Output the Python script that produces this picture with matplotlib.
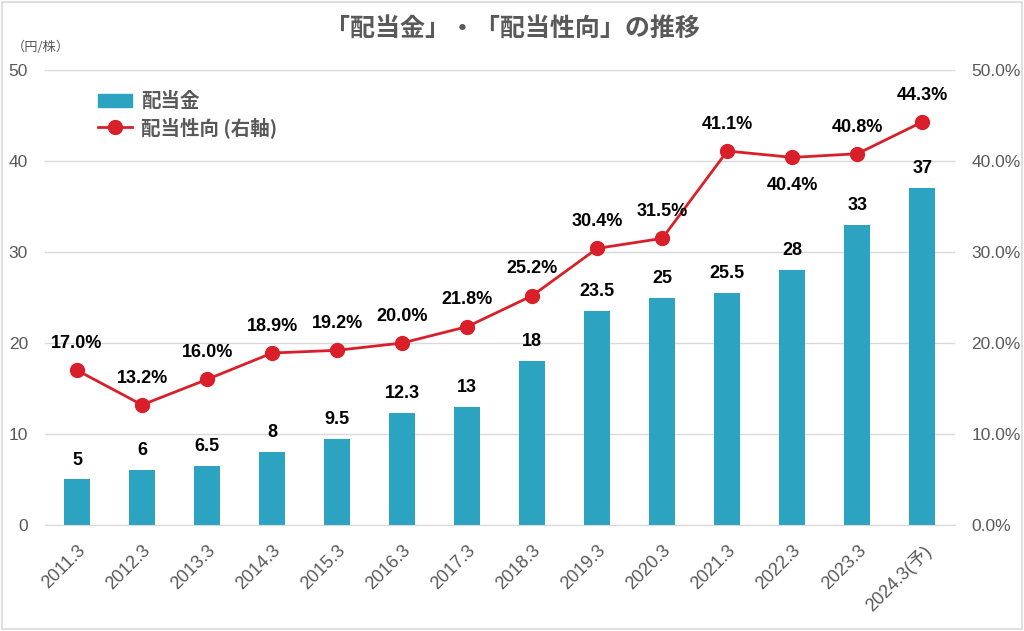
import matplotlib.pyplot as plt
from matplotlib.lines import Line2D
from matplotlib.patches import Patch, Rectangle

plt.rcParams['font.family'] = ['Liberation Sans', 'Noto Sans CJK JP', 'DejaVu Sans']

years = ['2011.3', '2012.3', '2013.3', '2014.3', '2015.3', '2016.3', '2017.3',
         '2018.3', '2019.3', '2020.3', '2021.3', '2022.3', '2023.3', '2024.3(予)']
dividend = [5, 6, 6.5, 8, 9.5, 12.3, 13, 18, 23.5, 25, 25.5, 28, 33, 37]
payout = [17.0, 13.2, 16.0, 18.9, 19.2, 20.0, 21.8, 25.2, 30.4, 31.5, 41.1, 40.4, 40.8, 44.3]
div_labels = ['5', '6', '6.5', '8', '9.5', '12.3', '13', '18', '23.5', '25', '25.5', '28', '33', '37']

bar_color = '#2CA3C0'
line_color = '#D9202A'
gray = '#595959'
cjk = ['Noto Sans CJK JP', 'DejaVu Sans']

fig = plt.figure(figsize=(10.24, 6.31), dpi=100)
fig.patches.append(Rectangle((0.002, 0.003), 0.996, 0.994, transform=fig.transFigure,
                             fill=False, edgecolor='#d9d9d9', linewidth=1.2))
ax = fig.add_axes([0.0435, 0.168, 0.889, 0.721])
ax2 = ax.twinx()

x = list(range(len(years)))
ax.bar(x, dividend, width=0.4, color=bar_color, zorder=2)
for xi, v, lab in zip(x, dividend, div_labels):
    ax.text(xi, v + 1.2, lab, ha='center', va='bottom', fontsize=13,
            fontweight='bold', color='black')

ax2.plot(x, payout, color=line_color, linewidth=2, marker='o', markersize=10, zorder=3)
for xi, v in zip(x, payout):
    if v == 40.4:
        ax2.text(xi, v - 2.2, '{:.1f}%'.format(v), ha='center', va='top', fontsize=13,
                 fontweight='bold', color='black')
    else:
        ax2.text(xi, v + 2.0, '{:.1f}%'.format(v), ha='center', va='bottom', fontsize=13,
                 fontweight='bold', color='black')

ax.set_xlim(-0.5, len(years) - 0.5)
ax.set_ylim(0, 50)
ax2.set_ylim(0, 50)
ax.set_yticks(range(0, 51, 10))
ax2.set_yticks(range(0, 51, 10))
ax2.set_yticklabels(['{:.1f}%'.format(t) for t in range(0, 51, 10)])
ax.set_xticks(x)
ax.set_xticklabels(years, rotation=45, ha='right', rotation_mode='anchor')

ax.grid(axis='y', color='#d9d9d9', linewidth=1, zorder=0)
ax.set_axisbelow(True)
for a in (ax, ax2):
    for s in a.spines.values():
        s.set_visible(False)
    a.tick_params(length=0, colors=gray, labelsize=12.5)
ax.spines['bottom'].set_visible(True)
ax.spines['bottom'].set_color('#d9d9d9')
ax.tick_params(axis='y', pad=12)
ax.tick_params(axis='x', pad=12, labelsize=13)
ax2.tick_params(axis='y', pad=12)

fig.text(0.5, 0.955, '「配当金」・「配当性向」の推移', ha='center', va='center',
         fontsize=18, fontweight='bold', color=gray, family=cjk)
fig.text(0.04, 0.925, '（円/株）', ha='center', va='center', fontsize=9.5, color=gray, family=cjk)

handles = [Patch(color=bar_color),
           Line2D([0], [0], color=line_color, linewidth=2, marker='o', markersize=10)]
ax.legend(handles, ['配当金', '配当性向 (右軸)'], loc='upper left', bbox_to_anchor=(0.04, 0.99),
          frameon=False, prop={'size': 14, 'weight': 'bold', 'family': cjk}, labelcolor=gray,
          handlelength=1.7, handletextpad=0.5, labelspacing=0.3)

fig.savefig('out.png', dpi=100)
